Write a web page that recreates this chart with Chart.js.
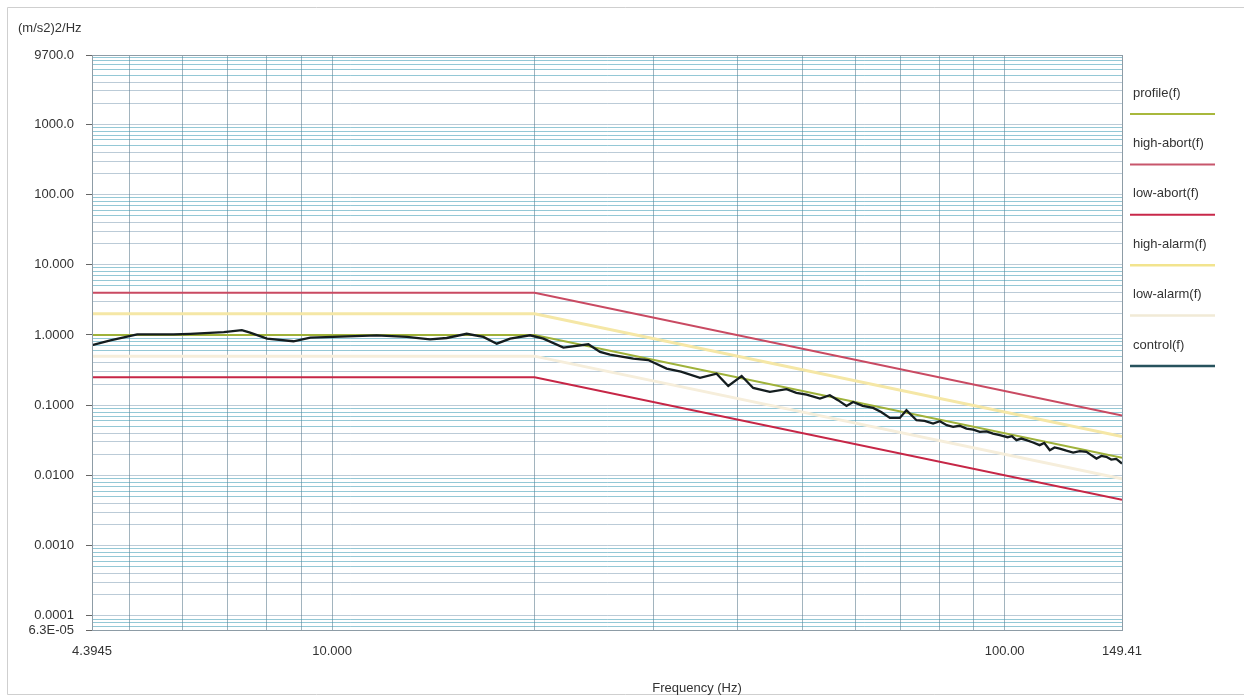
<!DOCTYPE html>
<html>
<head>
<meta charset="utf-8">
<script src="https://cdn.jsdelivr.net/npm/chart.js@4.4.0/dist/chart.umd.min.js"></script>
<style>
    html, body { margin: 0; padding: 0; background: #fff; }
    #wrap { position: relative; width: 1250px; height: 697px; }
</style>
</head>
<body>
<div id="wrap"><canvas id="psd"></canvas></div>
<script>
// limit lines: breakpoints (Hz)
var limitFreq = [4.3945, 20, 149.41];
var profileVal = [1.0, 1.0, 0.0179];
var highAbortVal = [3.98, 3.98, 0.0713];
var lowAbortVal = [0.251, 0.251, 0.0045];
var highAlarmVal = [2.0, 2.0, 0.0357];
var lowAlarmVal = [0.5, 0.5, 0.0090];

// control spectrum
var controlFreq = [4.3945, 4.68, 5.13, 5.81, 6.15, 6.90, 7.34, 7.55, 8.00, 8.76, 9.28, 10.04,
    11.65, 12.91, 13.98, 14.80, 15.85, 16.78, 17.57, 18.39, 19.69, 20.61, 22.07, 24.04,
    25.02, 25.89, 28.04, 29.5, 31.43, 33.0, 35.23, 37.29, 38.81, 40.63, 42.27, 44.75,
    47.38, 49.0, 50.75, 53.12, 54.95, 56.5, 58.18, 59.51, 61.5, 63.74, 65.5, 67.49,
    69.82, 71.43, 73.93, 76.0, 78.26, 80.07, 82.0, 83.80, 85.7, 87.72, 89.8, 91.81,
    94.0, 96.07, 98.31, 101.0, 102.5, 104.1, 105.8, 107.7, 110.2, 112.7, 114.5, 116.7,
    118.6, 120.7, 123.5, 126.4, 129.3, 132.3, 134.5, 136.9, 139.2, 141.6, 144.0, 146.5, 149.41];
var controlVal = [0.714, 0.841, 1.02, 1.02, 1.04, 1.10, 1.17, 1.08, 0.886, 0.814, 0.915, 0.937,
    0.99, 0.937, 0.869, 0.906, 1.04, 0.937, 0.752, 0.886, 0.99, 0.886, 0.660, 0.737,
    0.573, 0.525, 0.460, 0.44, 0.332, 0.30, 0.245, 0.281, 0.188, 0.261, 0.176, 0.155,
    0.169, 0.150, 0.1415, 0.124, 0.139, 0.118, 0.0977, 0.1114, 0.098, 0.0915, 0.080, 0.066,
    0.066, 0.0849, 0.0612, 0.060, 0.0547, 0.0592, 0.052, 0.0491, 0.0510, 0.0465, 0.0448, 0.0417,
    0.0425, 0.0394, 0.0374, 0.0350, 0.0362, 0.0318, 0.0335, 0.0318, 0.0295, 0.0270, 0.0290, 0.0229,
    0.0250, 0.0241, 0.0225, 0.0212, 0.0222, 0.0217, 0.0195, 0.0174, 0.0190, 0.0184, 0.0168, 0.0172, 0.0148];

var seriesNames = ["profile(f)", "high-abort(f)", "low-abort(f)", "high-alarm(f)", "low-alarm(f)", "control(f)"];

var xMin = 4.3945, xMax = 149.41;
var yMin = 0.000063, yMax = 9700;
var xTickValues = [4.3945, 10, 100, 149.41];
var xTickLabels = ["4.3945", "10.000", "100.00", "149.41"];
var yTickValues = [9700, 1000, 100, 10, 1, 0.1, 0.01, 0.001, 0.0001, 0.000063];
var yTickLabels = ["9700.0", "1000.0", "100.00", "10.000", "1.0000", "0.1000", "0.0100", "0.0010", "0.0001", "6.3E-05"];

var lineColors = ["#9fb23a", "#c94a62", "#c62646", "#f5e7a6", "#f6eedb", "#141d1f"];
var legendColors = ["#a8b83c", "#c8566c", "#c8284a", "#f2e48e", "#f1ead6", "#27525d"];
var lineWidths = [2, 2, 2, 3, 3, 2.3];

var fontFamily = "'Liberation Sans', Arial, sans-serif";

function toPoints(xs, ys) {
    var pts = [];
    for (var i = 0; i < xs.length; i++)
        pts.push({x: xs[i], y: ys[i]});
    return pts;
}

// log grid positions (1..9 x 10^k) inside the range
function logGrid(min, max) {
    var vals = [min];
    for (var k = -6; k <= 4; k++) {
        for (var m = 1; m <= 9; m++) {
            var v = m * Math.pow(10, k);
            if (v > min * 1.0001 && v < max * 0.9999)
                vals.push(v);
        }
    }
    vals.push(max);
    return vals;
}

function findLabel(value, values, labels) {
    for (var i = 0; i < values.length; i++) {
        if (Math.abs(Math.log10(value) - Math.log10(values[i])) < 1e-6)
            return labels[i];
    }
    return "";
}

var xGrid = logGrid(xMin, xMax);
var yGrid = logGrid(yMin, yMax);

var seriesData = [
    toPoints(limitFreq, profileVal),
    toPoints(limitFreq, highAbortVal),
    toPoints(limitFreq, lowAbortVal),
    toPoints(limitFreq, highAlarmVal),
    toPoints(limitFreq, lowAlarmVal),
    toPoints(controlFreq, controlVal)
];
var drawOrder = [1, 2, 2, 3, 3, 0];

var datasets = [];
for (var i = 0; i < seriesNames.length; i++) {
    datasets.push({
        label: seriesNames[i],
        data: seriesData[i],
        borderColor: lineColors[i],
        borderWidth: lineWidths[i],
        pointRadius: 0,
        tension: 0,
        fill: false,
        order: drawOrder[i]
    });
}

// frame, unit text, axis title and the stacked legend on the right
var decorPlugin = {
    id: "decor",
    afterDraw: function (chart) {
        var ctx = chart.ctx, a = chart.chartArea;
        ctx.save();
        ctx.strokeStyle = "#8d9ca6";
        ctx.lineWidth = 1;
        ctx.strokeRect(a.left + 0.5, a.top + 0.5, a.right - a.left, a.bottom - a.top);

        ctx.strokeStyle = "#cfcfcf";
        ctx.beginPath();
        ctx.moveTo(1244, 7.5);
        ctx.lineTo(7.5, 7.5);
        ctx.lineTo(7.5, 694.5);
        ctx.lineTo(1244, 694.5);
        ctx.stroke();

        ctx.fillStyle = "#333";
        ctx.font = "13px " + fontFamily;
        ctx.textBaseline = "middle";
        ctx.textAlign = "left";
        ctx.fillText("(m/s2)2/Hz", 18, 28);
        ctx.textAlign = "center";
        ctx.fillText("Frequency (Hz)", 697, 688);

        ctx.textAlign = "left";
        for (var i = 0; i < chart.data.datasets.length; i++) {
            var yText = 93 + i * 50.4;
            ctx.fillStyle = "#333";
            ctx.fillText(chart.data.datasets[i].label, 1133, yText);
            ctx.strokeStyle = legendColors[i];
            ctx.lineWidth = Math.min(lineWidths[i], 2.5);
            ctx.beginPath();
            ctx.moveTo(1130, yText + 21);
            ctx.lineTo(1215, yText + 21);
            ctx.stroke();
        }
        ctx.restore();
    }
};

var chart = new Chart(document.getElementById("psd"), {
    type: "line",
    data: {datasets: datasets},
    plugins: [decorPlugin],
    options: {
        responsive: true,
        maintainAspectRatio: false,
        animation: false,
        layout: {padding: {left: 0, right: 128, top: 55, bottom: 0}},
        plugins: {legend: {display: false}, tooltip: {enabled: false}, title: {display: false}},
        scales: {
            x: {
                type: "logarithmic",
                min: xMin,
                max: xMax,
                afterBuildTicks: function (scale) {
                    scale.ticks = xGrid.map(function (v) { return {value: v}; });
                },
                afterFit: function (scale) { scale.height = 67; },
                ticks: {
                    autoSkip: false,
                    maxRotation: 0,
                    padding: 8,
                    color: "#333",
                    font: {family: fontFamily, size: 13},
                    callback: function (value) { return findLabel(value, xTickValues, xTickLabels); }
                },
                grid: {color: "rgba(70,105,125,0.5)", lineWidth: 1, tickLength: 6, tickColor: "rgba(0,0,0,0)"},
                border: {color: "#8d9ca6"}
            },
            y: {
                type: "logarithmic",
                min: yMin,
                max: yMax,
                afterBuildTicks: function (scale) {
                    scale.ticks = yGrid.map(function (v) { return {value: v}; });
                },
                afterFit: function (scale) { scale.width = 92; },
                ticks: {
                    autoSkip: false,
                    padding: 12,
                    color: "#333",
                    font: {family: fontFamily, size: 13},
                    callback: function (value) { return findLabel(value, yTickValues, yTickLabels); }
                },
                grid: {
                    lineWidth: 1,
                    tickLength: 6,
                    color: function (c) {
                        var v = c.tick ? c.tick.value : 1;
                        var m = v / Math.pow(10, Math.floor(Math.log10(v) + 1e-9));
                        return m >= 4.5 ? "rgba(60,155,180,0.55)" : "rgba(85,125,155,0.4)";
                    },
                    tickColor: function (c) {
                        return c.tick && findLabel(c.tick.value, yTickValues, yTickLabels) ? "#666" : "rgba(0,0,0,0)";
                    }
                },
                border: {color: "#8d9ca6"}
            }
        }
    }
});
</script>
</body>
</html>
